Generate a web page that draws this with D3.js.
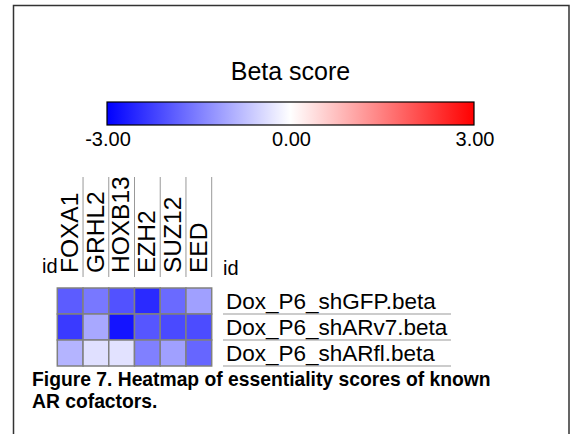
<!DOCTYPE html>
<html><head><meta charset="utf-8">
<script src="https://cdn.jsdelivr.net/npm/d3@7"></script>
<style>body{margin:0;background:#fff;}svg{display:block;font-family:"Liberation Sans",Arial,Helvetica,sans-serif;}</style>
</head><body>
<script>
const columns = ["FOXA1","GRHL2","HOXB13","EZH2","SUZ12","EED"];
const rows = ["Dox_P6_shGFP.beta","Dox_P6_shARv7.beta","Dox_P6_shARfl.beta"];
const shGFP = [-1.92,-1.59,-2.04,-2.51,-1.75,-1.12];
const shARv7 = [-2.32,-1.02,-2.76,-1.99,-2.13,-2.11];
const shARfl = [-0.88,-0.36,-0.34,-1.49,-1.12,-1.80];
const colorDomain = [-3,0,3];
const colorTicks = ["-3.00","0.00","3.00"];
const legendTitle = "Beta score";
const captionLines = ["Figure 7. Heatmap of essentiality scores of known","AR cofactors."];

const values = [shGFP, shARv7, shARfl];
const W=574,H=434;
const svg=d3.select("body").append("svg").attr("width",W).attr("height",H);

// frame
svg.append("path").attr("d","M13.5,440V5.5H569V440").attr("fill","none").attr("stroke","#333").attr("stroke-width",1.5);

const color=d3.scaleLinear().domain(colorDomain).range(["#0000ff","#ffffff","#ff0000"]);

// legend
const lx=d3.scaleLinear().domain([-3,3]).range([107,474]);
svg.append("text").attr("x",(lx(-3)+lx(3))/2).attr("y",80).attr("text-anchor","middle").attr("font-size",25).text(legendTitle);
const defs=svg.append("defs");
const grad=defs.append("linearGradient").attr("id","g").attr("x1","0%").attr("x2","100%");
colorDomain.forEach(v=>grad.append("stop").attr("offset",((v+3)/6*100)+"%").attr("stop-color",color(v)));
svg.append("rect").attr("x",lx(-3)).attr("y",102).attr("width",lx(3)-lx(-3)).attr("height",23).attr("fill","url(#g)").attr("stroke","#000").attr("stroke-width",1.2);
colorTicks.forEach((t,i)=>{
  svg.append("text").attr("x",lx(colorDomain[i])+1).attr("y",146).attr("text-anchor","middle").attr("font-size",20).text(t);
});

// heatmap
const x=d3.scaleBand().domain(columns).range([57.3,211.7]);
const y=d3.scaleBand().domain(rows).range([288,366]);

// column separators
svg.selectAll(".csep").data(columns).enter().append("line")
  .attr("x1",d=>x(d)+x.bandwidth()).attr("x2",d=>x(d)+x.bandwidth())
  .attr("y1",177).attr("y2",277).attr("stroke","#999").attr("stroke-width",1);
svg.selectAll(".clab").data(columns).enter().append("text")
  .attr("transform",d=>`translate(${x(d)+x.bandwidth()*0.8},273) rotate(-90)`)
  .attr("font-size",24.5).text(d=>d);
svg.append("text").attr("x",42).attr("y",273).attr("font-size",20).text("id");
svg.append("text").attr("x",223).attr("y",275).attr("font-size",20).text("id");

rows.forEach((r,ri)=>{
  svg.selectAll(".c"+ri).data(columns).enter().append("rect")
    .attr("x",d=>x(d)).attr("y",y(r)).attr("width",x.bandwidth()).attr("height",y.bandwidth())
    .attr("fill",(d,ci)=>color(values[ri][ci])).attr("stroke","#808080").attr("stroke-width",1.5);
});
svg.selectAll(".rsep").data(rows).enter().append("line")
  .attr("x1",223).attr("x2",451).attr("y1",d=>y(d)+y.bandwidth()).attr("y2",d=>y(d)+y.bandwidth())
  .attr("stroke","#999").attr("stroke-width",1);
svg.selectAll(".rlab").data(rows).enter().append("text")
  .attr("x",226).attr("y",d=>y(d)+y.bandwidth()/2+7.5).attr("font-size",22.5).text(d=>d);

// caption
captionLines.forEach((t,i)=>{
  svg.append("text").attr("x",32).attr("y",386+i*22).attr("font-size",19.3).attr("font-weight","bold").text(t);
});
</script>
</body></html>
